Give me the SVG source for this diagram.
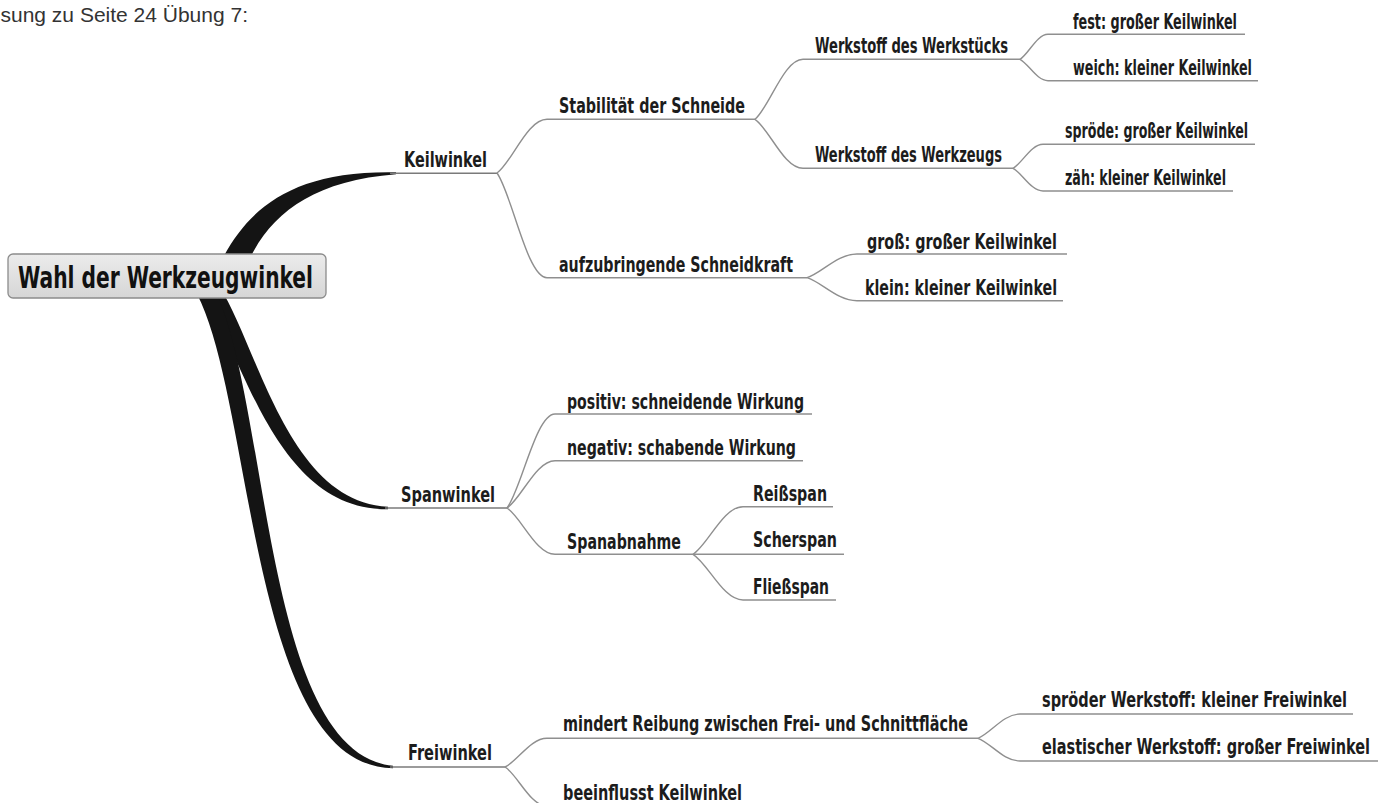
<svg xmlns="http://www.w3.org/2000/svg" width="1391" height="803" viewBox="0 0 1391 803">
  <defs>
    <linearGradient id="rootFill" x1="0" y1="0" x2="0" y2="1">
      <stop offset="0" stop-color="#ececec"/>
      <stop offset="1" stop-color="#d6d6d6"/>
    </linearGradient>
    <style>
      .t { font-family: "Liberation Sans Narrow", "DejaVu Sans Condensed", "Liberation Sans", sans-serif; font-size: 21px; font-weight: bold; fill: #1c1c1c; }
      .ts { font-size: 16.5px; }
      .root { font-family: "Liberation Sans Narrow", "DejaVu Sans Condensed", "Liberation Sans", sans-serif; font-size: 30px; font-weight: bold; fill: #111; }
      .hdr { font-family: "Liberation Sans", Arial, sans-serif; font-size: 21px; fill: #333; }
      .c { fill: none; stroke: #8f8f8f; stroke-width: 1.4; }
      .thick { fill: #141414; stroke: none; }
      .ul { fill: none; stroke: #7a7a7a; stroke-width: 1.6; }
    </style>
  </defs>
  <rect width="1391" height="803" fill="#ffffff"/>

  <text class="hdr" x="0.5" y="21.7">sung zu Seite 24 Übung 7:</text>

  <g id="connectors">
    <!-- thick main branches -->
    <path class="thick" d="M214,276 C240,218 280,170 396,172.3 L396,174.3 C300,182 260,224 240,282 Z"/>
    <path class="thick" d="M203,292 C243,356 276,511 388,509.3 L388,506.7 C288,503 257,344 219,286 Z"/>
    <path class="thick" d="M197,294 C254,404 250,767 393,768.2 L393,765.8 C262,753 270,396 213,286 Z"/>
    <path class="ul" d="M390,173.3 H497"/>
    <path class="ul" d="M385,508 H507"/>
    <path class="ul" d="M390,767 H505"/>

    <!-- Keilwinkel subtree -->
    <path class="c" d="M497,173 C512,162.3 527,119.3 547,119.3 H755"/>
    <path class="c" d="M497,173 C512,193.9 527,277.7 547,277.7 H807"/>
    <path class="c" d="M755,119.3 C769.4,107.3 783.8,59.3 803,59.3 H1020"/>
    <path class="c" d="M755,119.3 C769.4,129.1 783.8,168.3 803,168.3 H1013"/>
    <path class="c" d="M1020,59.3 C1028.4,54.3 1036.8,34.3 1048,34.3 H1245"/>
    <path class="c" d="M1020,59.3 C1028.4,63.6 1036.8,80.7 1048,80.7 H1258"/>
    <path class="c" d="M1013,168.3 C1022,163.5 1031,144.3 1043,144.3 H1255"/>
    <path class="c" d="M1013,168.3 C1022,172.8 1031,191 1043,191 H1233"/>
    <path class="c" d="M807,277.7 C822,273 837,254 857,254 H1067"/>
    <path class="c" d="M807,277.7 C822,282.3 837,300.7 857,300.7 H1063"/>

    <!-- Spanwinkel subtree -->
    <path class="c" d="M507,508 C521.4,489.2 535.8,414 555,414 H812"/>
    <path class="c" d="M507,508 C521.4,498.5 535.8,460.7 555,460.7 H803"/>
    <path class="c" d="M507,508 C521.4,517.3 535.8,554.3 555,554.3 H693"/>
    <path class="c" d="M693,554.3 C708,544.8 723,506.7 743,506.7 H833"/>
    <path class="c" d="M693,554.3 H844"/>
    <path class="c" d="M693,554.3 C708,563.4 723,600 743,600 H836"/>

    <!-- Freiwinkel subtree -->
    <path class="c" d="M505,767 C517.6,761.3 530.2,738.3 547,738.3 H978"/>
    <path class="c" d="M505,767 C517.6,774.8 530.2,806 547,806 H750"/>
    <path class="c" d="M978,738.3 C990.6,733.4 1003.2,714 1020,714 H1353"/>
    <path class="c" d="M978,738.3 C990.6,742.8 1003.2,761 1020,761 H1378"/>
  </g>

  <g id="root-node">
    <rect x="8" y="254" width="318" height="44" rx="5" ry="5" fill="url(#rootFill)" stroke="#8c8c8c" stroke-width="1.3"/>
    <text class="root" x="18" y="288" textLength="295" lengthAdjust="spacingAndGlyphs">Wahl der Werkzeugwinkel</text>
  </g>

  <g id="keilwinkel"><text class="t" x="404" y="167" textLength="83" lengthAdjust="spacingAndGlyphs">Keilwinkel</text></g>
  <g id="stabilitaet"><text class="t" x="559" y="113" textLength="186" lengthAdjust="spacingAndGlyphs">Stabilität der Schneide</text></g>
  <g id="schneidkraft"><text class="t" x="559" y="271.5" textLength="234" lengthAdjust="spacingAndGlyphs">aufzubringende Schneidkraft</text></g>
  <g id="werkstueck"><text class="t" x="815" y="52.5" textLength="193" lengthAdjust="spacingAndGlyphs">Werkstoff des Werkstücks</text></g>
  <g id="werkzeug"><text class="t" x="815" y="161.5" textLength="187" lengthAdjust="spacingAndGlyphs">Werkstoff des Werkzeugs</text></g>
  <g id="fest"><text class="t" x="1073" y="28.5" textLength="164" lengthAdjust="spacingAndGlyphs">fest: großer Keilwinkel</text></g>
  <g id="weich"><text class="t" x="1073" y="74.5" textLength="179" lengthAdjust="spacingAndGlyphs">weich: kleiner Keilwinkel</text></g>
  <g id="sproede"><text class="t" x="1065" y="137.5" textLength="183" lengthAdjust="spacingAndGlyphs">spröde: großer Keilwinkel</text></g>
  <g id="zaeh"><text class="t" x="1065" y="184.5" textLength="161" lengthAdjust="spacingAndGlyphs">zäh: kleiner Keilwinkel</text></g>
  <g id="gross"><text class="t" x="867" y="249" textLength="190" lengthAdjust="spacingAndGlyphs">groß: großer Keilwinkel</text></g>
  <g id="klein"><text class="t" x="865" y="294.5" textLength="192" lengthAdjust="spacingAndGlyphs">klein: kleiner Keilwinkel</text></g>

  <g id="spanwinkel"><text class="t" x="401" y="502" textLength="94" lengthAdjust="spacingAndGlyphs">Spanwinkel</text></g>
  <g id="positiv"><text class="t" x="567" y="408.5" textLength="237" lengthAdjust="spacingAndGlyphs">positiv: schneidende Wirkung</text></g>
  <g id="negativ"><text class="t" x="567" y="455" textLength="229" lengthAdjust="spacingAndGlyphs">negativ: schabende Wirkung</text></g>
  <g id="spanabnahme"><text class="t" x="567" y="548.5" textLength="114" lengthAdjust="spacingAndGlyphs">Spanabnahme</text></g>
  <g id="reissspan"><text class="t" x="753" y="501" textLength="74" lengthAdjust="spacingAndGlyphs">Reißspan</text></g>
  <g id="scherspan"><text class="t" x="753" y="547" textLength="84" lengthAdjust="spacingAndGlyphs">Scherspan</text></g>
  <g id="fliessspan"><text class="t" x="753" y="593.5" textLength="76" lengthAdjust="spacingAndGlyphs">Fließspan</text></g>

  <g id="freiwinkel"><text class="t" x="408" y="760" textLength="84" lengthAdjust="spacingAndGlyphs">Freiwinkel</text></g>
  <g id="mindert"><text class="t" x="563" y="731" textLength="405" lengthAdjust="spacingAndGlyphs">mindert Reibung zwischen Frei- und Schnittfläche</text></g>
  <g id="beeinflusst"><text class="t" x="563" y="800" textLength="179" lengthAdjust="spacingAndGlyphs">beeinflusst Keilwinkel</text></g>
  <g id="sproeder"><text class="t ts" x="1042" y="707.5" transform="matrix(1,0,0,1.2727,0,-192.95)" textLength="305" lengthAdjust="spacingAndGlyphs">spröder Werkstoff: kleiner Freiwinkel</text></g>
  <g id="elastisch"><text class="t ts" x="1042" y="754.5" transform="matrix(1,0,0,1.2727,0,-205.76)" textLength="328" lengthAdjust="spacingAndGlyphs">elastischer Werkstoff: großer Freiwinkel</text></g>
</svg>
